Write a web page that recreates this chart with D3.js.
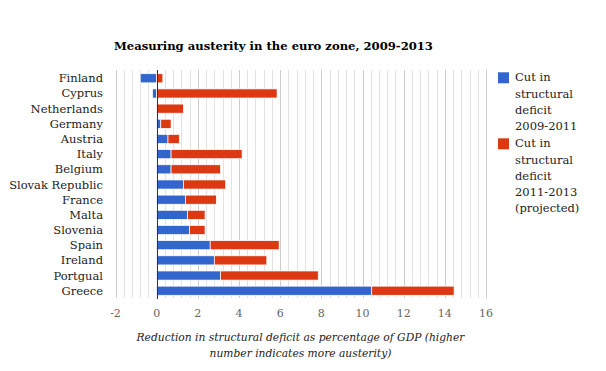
<!DOCTYPE html>
<html>
<head>
<meta charset="utf-8">
<script src="https://cdn.jsdelivr.net/npm/d3@7"></script>
<style>
  body { margin: 0; background: #fff; }
  svg { font-family: "DejaVu Serif", Georgia, serif; }
</style>
</head>
<body>
<svg id="chart" width="606" height="371"></svg>
<script>
// data
const countries = ['Finland', 'Cyprus', 'Netherlands', 'Germany', 'Austria', 'Italy', 'Belgium',
    'Slovak Republic', 'France', 'Malta', 'Slovenia', 'Spain', 'Ireland', 'Portgual', 'Greece'];
const cut0911 = [-0.8, -0.2, 0, 0.2, 0.55, 0.7, 0.7, 1.3, 1.4, 1.5, 1.6, 2.6, 2.8, 3.1, 10.45];
const cut1113 = [0.3, 5.85, 1.3, 0.5, 0.55, 3.45, 2.4, 2.05, 1.5, 0.85, 0.75, 3.35, 2.55, 4.75, 4.0];
const seriesNames = ['Cut in structural deficit 2009-2011', 'Cut in structural deficit 2011-2013 (projected)'];
const xTicks = [-2, 0, 2, 4, 6, 8, 10, 12, 14, 16];

const colors = ['#3366cc', '#dc3912'];
const svg = d3.select('#chart');

const x = d3.scaleLinear().domain([-2, 16]).range([115.5, 486]);
const y = d3.scaleBand().domain(countries).range([70.7, 298.3])
    .paddingInner(0.4).paddingOuter(0.2);

// minor + major gridlines
const grid = svg.append('g').classed('grid', true);
grid.selectAll('line')
    .data(d3.range(-2, 16.001, 0.4))
    .enter()
    .append('line')
    .attr('x1', d => Math.round(x(d)) + 0.5)
    .attr('x2', d => Math.round(x(d)) + 0.5)
    .attr('y1', 70)
    .attr('y2', 298)
    .attr('stroke', d => Math.abs(d / 2 - Math.round(d / 2)) < 1e-6 ? '#cccccc' : '#e2e2e2')
    .attr('stroke-width', 1);

const rows = countries.map((c, i) => ({country: c, a: cut0911[i], b: cut1113[i]}));
const stacked = d3.stack().keys(['a', 'b']).offset(d3.stackOffsetDiverging)(rows);

const bars = svg.append('g').classed('bars', true);
bars.selectAll('g')
    .data(stacked)
    .enter()
    .append('g')
    .attr('fill', (d, i) => colors[i])
    .selectAll('rect')
    .data(d => d)
    .enter()
    .append('rect')
    .attr('x', d => x(Math.min(d[0], d[1])))
    .attr('width', d => Math.abs(x(d[1]) - x(d[0])))
    .attr('y', d => y(d.data.country))
    .attr('height', y.bandwidth())
    .attr('stroke', '#fff')
    .attr('stroke-width', 0.7);

// zero line
svg.append('line')
    .attr('x1', Math.round(x(0)) + 0.5)
    .attr('x2', Math.round(x(0)) + 0.5)
    .attr('y1', 70)
    .attr('y2', 299)
    .attr('stroke', '#333')
    .attr('stroke-width', 1);

// category labels
svg.append('g')
    .selectAll('text')
    .data(countries)
    .enter()
    .append('text')
    .attr('x', 103)
    .attr('y', d => y(d) + y.bandwidth() / 2)
    .attr('dy', '0.35em')
    .attr('text-anchor', 'end')
    .style('font-size', '11.5px')
    .attr('fill', '#222')
    .text(d => d);

// x tick labels
svg.append('g')
    .selectAll('text')
    .data(xTicks)
    .enter()
    .append('text')
    .attr('x', d => x(d))
    .attr('y', 313)
    .attr('dy', '0.35em')
    .attr('text-anchor', 'middle')
    .style('font-size', '11px')
    .attr('fill', '#666')
    .text(d => d);

// axis title
const xTitle = ['Reduction in structural deficit as percentage of GDP (higher', 'number indicates more austerity)'];
svg.append('g')
    .selectAll('text')
    .data(xTitle)
    .enter()
    .append('text')
    .attr('x', 300.5)
    .attr('y', (d, i) => 337 + i * 16.3)
    .attr('dy', '0.35em')
    .attr('text-anchor', 'middle')
    .style('font-size', '10.7px')
    .style('font-style', 'italic')
    .attr('fill', '#222')
    .text(d => d);

// title
svg.append('text')
    .attr('x', 114)
    .attr('y', 46)
    .attr('dy', '0.35em')
    .style('font-size', '11.6px')
    .style('font-weight', 'bold')
    .attr('fill', '#000')
    .text('Measuring austerity in the euro zone, 2009-2013');

// legend
const legendLines = [['Cut in', 'structural', 'deficit', '2009-2011'],
                     ['Cut in', 'structural', 'deficit', '2011-2013', '(projected)']];
const legend = svg.append('g').classed('legend', true);
legendLines.forEach((lines, i) => {
    const top = i === 0 ? 72.3 : 138.3;
    legend.append('rect')
        .attr('x', 498)
        .attr('y', top)
        .attr('width', 11)
        .attr('height', 11)
        .attr('fill', colors[i]);
    legend.append('g')
        .selectAll('text')
        .data(lines)
        .enter()
        .append('text')
        .attr('x', 515)
        .attr('y', (d, j) => top + 5 + j * 16.2)
        .attr('dy', '0.35em')
        .style('font-size', '11.5px')
        .attr('fill', '#222')
        .text(d => d);
});
</script>
</body>
</html>
